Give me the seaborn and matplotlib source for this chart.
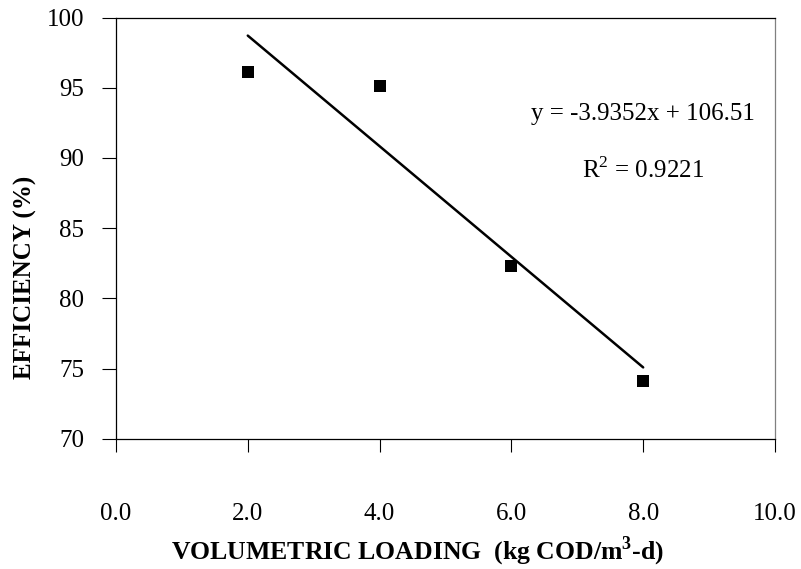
import numpy as np
import pandas as pd
import seaborn as sns
import matplotlib
matplotlib.use('Agg')
import matplotlib.pyplot as plt

# datos
loading = [2.0, 4.0, 6.0, 8.0]
efficiency = [96.1, 95.1, 82.3, 74.1]
x_ticks = [0, 2, 4, 6, 8, 10]
y_ticks = [70, 75, 80, 85, 90, 95, 100]

df = pd.DataFrame({'loading': loading, 'efficiency': efficiency})

sns.set_style('ticks')
plt.rcParams['font.family'] = ['Liberation Serif', 'DejaVu Serif']
plt.rcParams['mathtext.fontset'] = 'custom'
plt.rcParams['mathtext.rm'] = 'Liberation Serif'
plt.rcParams['mathtext.bf'] = 'Liberation Serif:bold'
plt.rcParams['text.color'] = 'black'
plt.rcParams['axes.labelcolor'] = 'black'

fig = plt.figure(figsize=(8.01, 5.69), dpi=100)
ax = fig.add_axes([0.1448, 0.229, 0.8227, 0.740])

sns.scatterplot(data=df, x='loading', y='efficiency', marker='s', s=64,
                color='black', linewidth=0, ax=ax, zorder=3)
sns.regplot(data=df, x='loading', y='efficiency', scatter=False, ci=None,
            color='black', line_kws={'linewidth': 1.8}, ax=ax)

ax.set_xlim(0, 10)
ax.set_ylim(70, 100)
ax.set_xticks(x_ticks)
ax.set_xticklabels([f'{t:.1f}' for t in x_ticks])
ax.set_yticks(y_ticks)

ax.tick_params(axis='x', direction='out', length=9.5, width=0.8, pad=37,
               labelsize=18, colors='black')
ax.tick_params(axis='y', direction='out', length=10, width=0.8, pad=13,
               labelsize=18, colors='black')

for side in ['left', 'bottom', 'top']:
    ax.spines[side].set_color('black')
    ax.spines[side].set_linewidth(0.9)
ax.spines['right'].set_color('#808080')
ax.spines['right'].set_linewidth(0.9)

ax.set_xlabel(r'VOLUMETRIC LOADING  (kg COD/m$^\mathbf{3}$-d)',
              fontsize=18.5, fontweight='bold')
ax.xaxis.label.set_va('center')
ax.xaxis.set_label_coords(0.458, -0.268)
ax.set_ylabel('EFFICIENCY (%)', fontsize=18, fontweight='bold')
ax.yaxis.set_label_coords(-0.12, 0.383)

ax.text(8.0, 93.1, 'y = -3.9352x + 106.51', fontsize=18, ha='center', va='center')
ax.text(8.0, 89.1, r'R$^2$ = 0.9221', fontsize=18, ha='center', va='center')

fig.savefig('out.png', dpi=100)
